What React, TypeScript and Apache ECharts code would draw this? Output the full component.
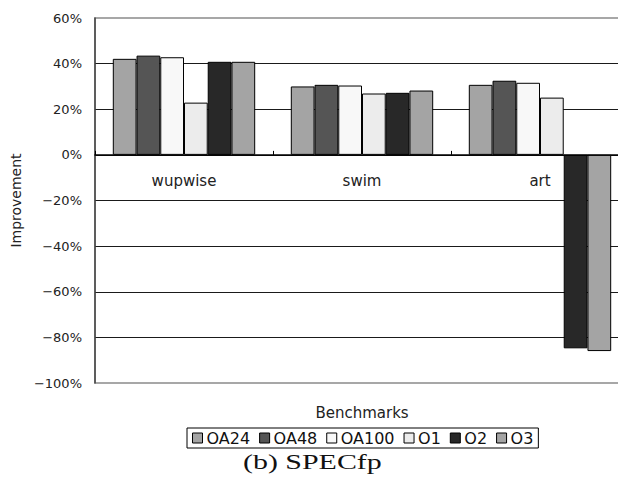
import React, { useEffect, useRef } from "react";
import * as echarts from "echarts";

const benchmarks = ["wupwise", "swim", "art"];
const seriesNames = ["OA24", "OA48", "OA100", "O1", "O2", "O3"];
const seriesColors = ["#a4a4a4", "#555555", "#f8f8f8", "#ececec", "#282828", "#a4a4a4"];

// Improvement (%) per benchmark, one array per configuration
const oa24 = [42.1, 30.0, 30.7];
const oa48 = [43.5, 30.7, 32.5];
const oa100 = [42.8, 30.4, 31.6];
const o1 = [22.9, 26.9, 25.1];
const o2 = [40.8, 27.2, -84.8];
const o3 = [40.8, 28.2, -86.0];
const seriesValues = [oa24, oa48, oa100, o1, o2, o3];

const yMin = -100;
const yMax = 60;
const yStep = 20;

const sans = "DejaVu Sans";

// plot box geometry
const gridTop = 18;
const gridBottom = 100;
const chartHeight = 483;
const plotHeight = chartHeight - gridTop - gridBottom;
// the category axis sits on the 0% line
const zeroOffset = -plotHeight * (0 - yMin) / (yMax - yMin);

export default function App() {
  const ref = useRef<HTMLDivElement>(null);

  useEffect(() => {
    if (!ref.current) return;
    const chart = echarts.init(ref.current, undefined, { renderer: "svg" });

    chart.setOption({
      animation: false,
      backgroundColor: "#ffffff",
      grid: {
        left: 95,
        top: gridTop,
        width: 534,
        bottom: gridBottom,
        outerBoundsMode: "none",
        containLabel: false,
        show: true,
        borderColor: "#8a8a8a",
        borderWidth: 1.5,
        backgroundColor: "transparent",
      },
      legend: {
        data: seriesNames,
        left: 187,
        top: 428,
        orient: "horizontal",
        itemWidth: 10,
        itemHeight: 10,
        itemGap: 9,
        padding: [2, 5],
        borderColor: "#000",
        borderWidth: 1,
        borderRadius: 0,
        icon: "rect",
        itemStyle: { borderColor: "#000", borderWidth: 1 },
        textStyle: { fontFamily: sans, fontSize: 16, color: "#111", padding: [0, 0, 0, -1] },
      },
      xAxis: {
        type: "category",
        data: benchmarks,
        position: "bottom",
        offset: zeroOffset,
        name: "Benchmarks",
        nameLocation: "middle",
        nameGap: 251,
        nameTextStyle: { fontFamily: sans, fontSize: 15, color: "#222" },
        axisLine: { onZero: false, lineStyle: { color: "#000", width: 1.5 } },
        axisTick: { show: true, inside: true, length: 4, lineStyle: { color: "#000" } },
        axisLabel: { margin: 19, fontFamily: sans, fontSize: 15, color: "#222" },
        splitLine: { show: false },
      },
      yAxis: {
        type: "value",
        min: yMin,
        max: yMax,
        interval: yStep,
        name: "Improvement",
        nameLocation: "middle",
        nameGap: 70,
        nameRotate: 90,
        nameTextStyle: { fontFamily: sans, fontSize: 14, color: "#222" },
        axisLine: { show: true, lineStyle: { color: "#444", width: 1.5 } },
        axisTick: { show: false },
        axisLabel: {
          margin: 13,
          fontFamily: sans,
          fontSize: 13,
          color: "#222",
          formatter: (v: number) => (v < 0 ? "\u2212" + Math.abs(v) : String(v)) + "%",
        },
        splitLine: {
          show: true,
          showMinLine: false,
          showMaxLine: false,
          lineStyle: { color: "#1a1a1a", width: 1.2 },
        },
      },
      series: seriesNames.map((name, i) => ({
        name,
        type: "bar",
        data: seriesValues[i],
        barGap: "0%",
        barCategoryGap: "20%",
        itemStyle: { color: seriesColors[i], borderColor: "#000", borderWidth: 1 },
      })),
      graphic: [
        {
          type: "text",
          x: 243,
          y: 451,
          scaleX: 1.36,
          style: {
            text: "(b) SPECfp",
            fontFamily: "Liberation Serif",
            fontSize: 22,
            fill: "#111",
            verticalAlign: "top",
          },
        },
      ],
    });

    return () => chart.dispose();
  }, []);

  return (
    <div
      ref={ref}
      style={{ position: "absolute", left: 0, top: 0, width: 618, height: 483, overflow: "hidden" }}
    />
  );
}
